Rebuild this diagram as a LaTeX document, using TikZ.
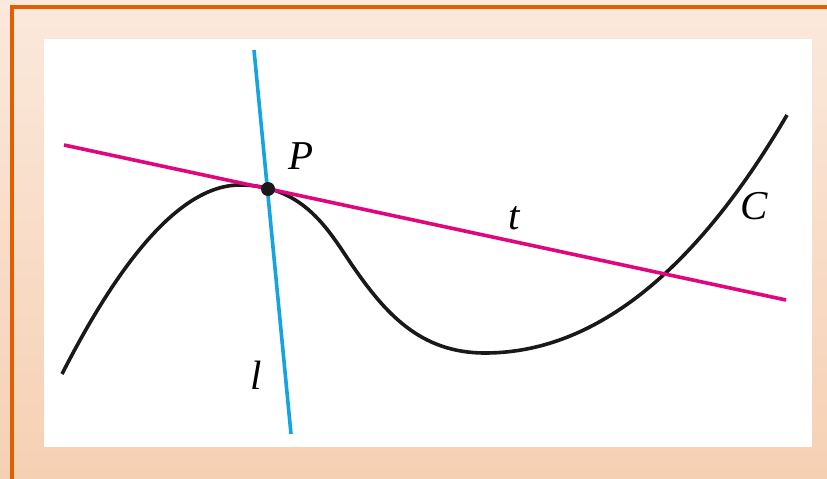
\documentclass[tikz,border=0pt]{standalone}
\usepackage{fontspec}
\setmainfont{Liberation Serif}
\usetikzlibrary{positioning,calc}
\definecolor{Magenta}{HTML}{E0067E}
\definecolor{Cyan}{HTML}{15A4E2}
\definecolor{Frame}{HTML}{E35E00}
\definecolor{BgTop}{HTML}{FBE9DC}
\definecolor{BgBottom}{HTML}{F6D0B3}

\begin{document}
\begin{tikzpicture}[x=1pt,y=-1pt,
    curvestyle/.style={line width=3.6pt,draw=black!90},
    tangentstyle/.style={line width=3.6pt,draw=Magenta},
    normalstyle/.style={line width=3.6pt,draw=Cyan},
    labelstyle/.style={font=\fontsize{41}{41}\selectfont\itshape,inner sep=0pt}]
    \useasboundingbox (0,0) rectangle (827,479);
    % background and frame
    \shade[top color=BgTop,bottom color=BgBottom] (0,0) rectangle (827,479);
    \draw[Frame,line width=4pt] (12,7) rectangle (835,480.5);
    \fill[white] (44,39) rectangle (812,446.5);
    % points
    \coordinate (P) at (268,189);
    \coordinate (tA) at (64,145);
    \coordinate (tB) at (786,300);
    \coordinate (lA) at (254,50);
    \coordinate (lB) at (291,434);
    % curve C
    \draw[curvestyle] (62,374) .. controls (105,290) and (170,185) .. (240,185)
      .. controls (305,185) and (330,233) .. (352,265)
      .. controls (385,313) and (420,353) .. (485,353)
      .. controls (605,353) and (705,255) .. (787,115);
    % tangent and normal
    \draw[tangentstyle] (tA) -- (tB);
    \draw[normalstyle] (lA) -- (lB);
    \fill[black!90] (P) circle[radius=7];
    % labels
    \node[labelstyle] (labP) at (301,156) {P};
    \node[labelstyle] (labt) at (514,218) {t};
    \node[labelstyle] (labC) at (754,206) {C};
    \node[labelstyle] (labl) at (256,375) {l};
  \end{tikzpicture}
\end{document}
